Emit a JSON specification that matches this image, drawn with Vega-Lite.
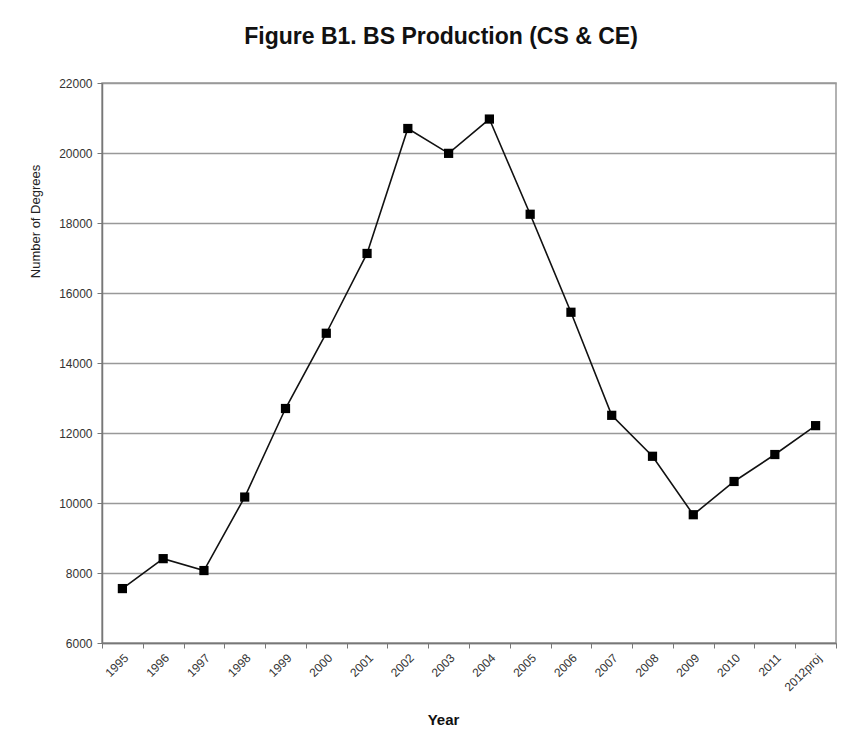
{
  "$schema": "https://vega.github.io/schema/vega-lite/v6.json",
  "width": 734,
  "height": 560,
  "autosize": {"type": "none"},
  "padding": {"left": 102, "top": 83, "right": 27, "bottom": 92},
  "background": "white",
  "title": {
    "text": "Figure B1. BS Production (CS & CE)",
    "font": "Liberation Sans",
    "fontSize": 23,
    "fontWeight": "bold",
    "color": "#111",
    "anchor": "middle",
    "dx": -28,
    "offset": 28
  },
  "data": {
    "values": [
      {"year": "1995", "degrees": 7555},
      {"year": "1996", "degrees": 8410},
      {"year": "1997", "degrees": 8070},
      {"year": "1998", "degrees": 10170},
      {"year": "1999", "degrees": 12700},
      {"year": "2000", "degrees": 14850},
      {"year": "2001", "degrees": 17130},
      {"year": "2002", "degrees": 20700},
      {"year": "2003", "degrees": 19990},
      {"year": "2004", "degrees": 20970},
      {"year": "2005", "degrees": 18250},
      {"year": "2006", "degrees": 15450},
      {"year": "2007", "degrees": 12505},
      {"year": "2008", "degrees": 11335},
      {"year": "2009", "degrees": 9665},
      {"year": "2010", "degrees": 10615},
      {"year": "2011", "degrees": 11385},
      {"year": "2012proj", "degrees": 12210}
    ]
  },
  "encoding": {
    "x": {
      "field": "year",
      "type": "ordinal",
      "sort": null,
      "scale": {"type": "band", "paddingInner": 0, "paddingOuter": 0},
      "axis": {
        "title": "Year",
        "titleFont": "Liberation Sans",
        "titleFontSize": 15,
        "titleFontWeight": "bold",
        "titleColor": "#111",
        "titleX": 341,
        "titleY": 81,
        "titleBaseline": "alphabetic",
        "labelAngle": -45,
        "labelFont": "Liberation Sans",
        "labelFontSize": 12,
        "labelColor": "#333",
        "labelPadding": 4,
        "tickBand": "extent",
        "tickSize": 5,
        "tickColor": "#777",
        "domainColor": "#777",
        "domainWidth": 1.5,
        "grid": false
      }
    },
    "y": {
      "field": "degrees",
      "type": "quantitative",
      "scale": {"domain": [6000, 22000], "nice": false, "zero": false},
      "axis": {
        "title": "Number of Degrees",
        "titleFont": "Liberation Sans",
        "titleFontSize": 13,
        "titleFontWeight": "normal",
        "titleColor": "#222",
        "titleX": -67,
        "titleY": 138,
        "titleAngle": -90,
        "titleAlign": "center",
        "titleBaseline": "middle",
        "values": [6000, 8000, 10000, 12000, 14000, 16000, 18000, 20000, 22000],
        "format": "d",
        "labelFont": "Liberation Sans",
        "labelFontSize": 12,
        "labelColor": "#333",
        "labelPadding": 5,
        "tickSize": 5,
        "tickColor": "#777",
        "domainColor": "#777",
        "domainWidth": 1.5,
        "grid": true,
        "gridColor": "#999",
        "gridWidth": 1.5
      }
    }
  },
  "layer": [
    {"mark": {"type": "line", "color": "#111", "strokeWidth": 1.6}},
    {"mark": {"type": "point", "shape": "square", "filled": true, "color": "#000", "size": 85, "opacity": 1}}
  ],
  "config": {
    "view": {"stroke": "#999", "strokeWidth": 1.5}
  }
}
